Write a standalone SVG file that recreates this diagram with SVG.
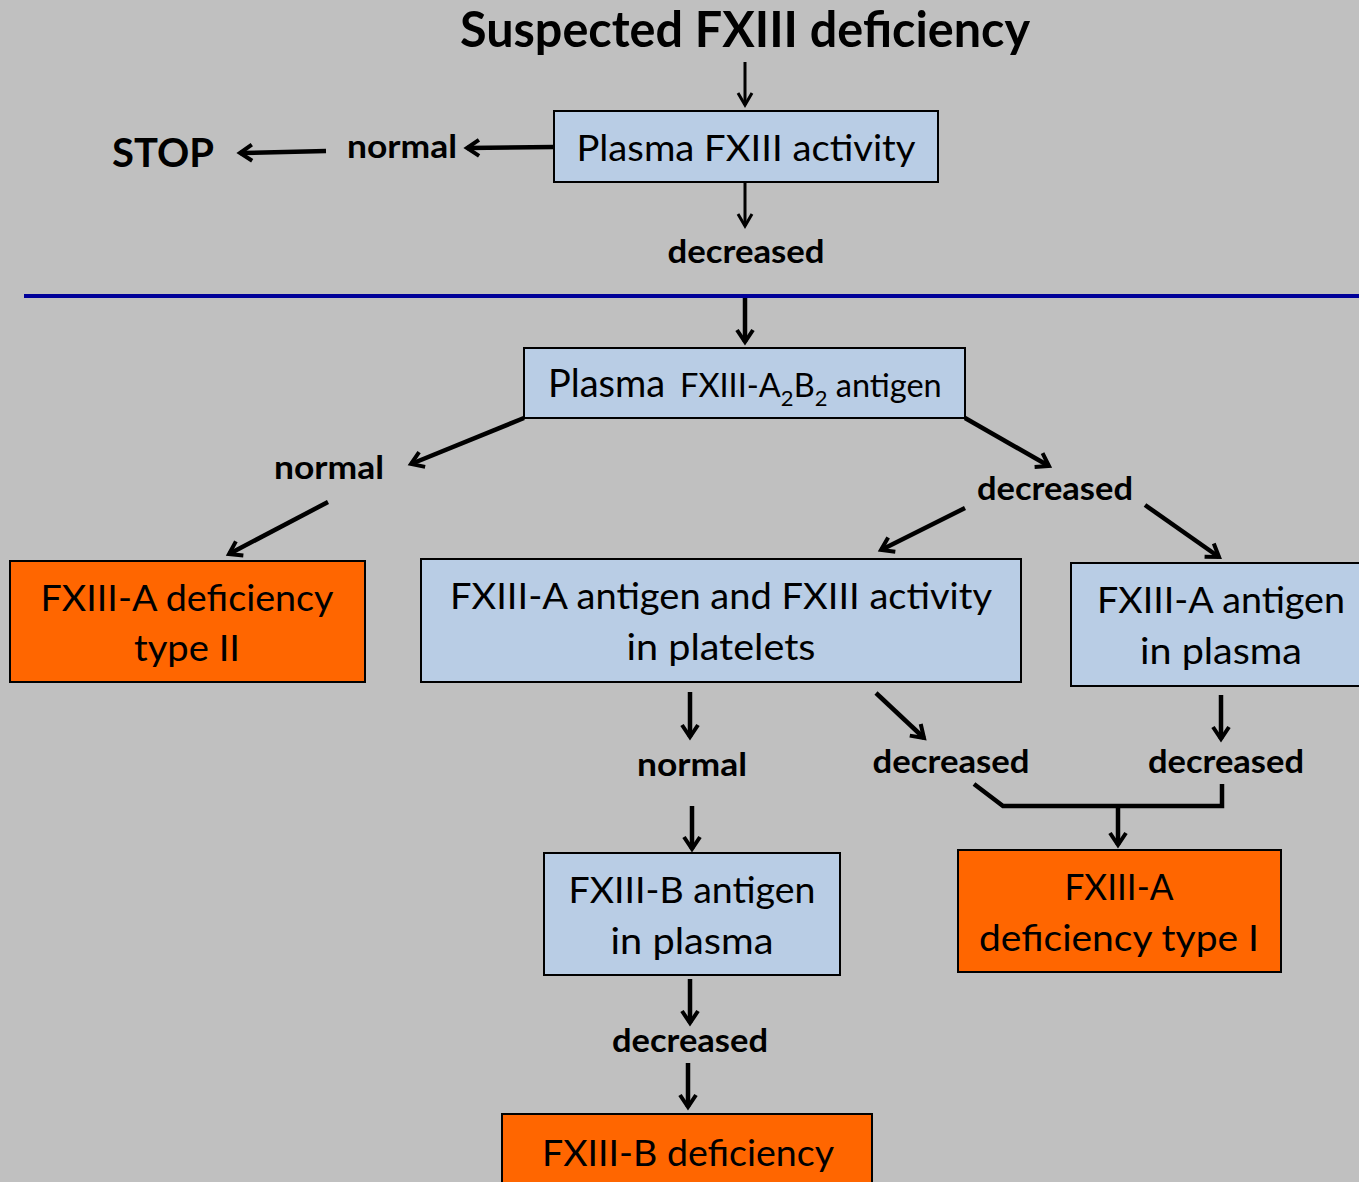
<svg xmlns="http://www.w3.org/2000/svg" width="1359" height="1182" viewBox="0 0 1359 1182">
<defs>
<style>
.bg{fill:#C0C0C0}
.blue{fill:#B9CDE5;stroke:#000;stroke-width:2}
.orange{fill:#FF6600;stroke:#000;stroke-width:2}
.t{font-family:Lato,"Open Sans",sans-serif;font-size:37px;fill:#000;text-anchor:middle}
.b{font-family:Lato,"Open Sans",sans-serif;font-size:33px;font-weight:bold;fill:#000;text-anchor:middle}
.c{fill:none;stroke:#000;stroke-width:4.5}
.thin{fill:none;stroke:#000;stroke-width:3}
</style>
<marker id="ah" viewBox="0 0 20 20" refX="16" refY="10" markerUnits="userSpaceOnUse" markerWidth="20" markerHeight="20" orient="auto">
<path d="M4,2 L16,10 L4,18" fill="none" stroke="#000" stroke-width="4"/>
</marker>
<marker id="ahs" viewBox="0 0 20 20" refX="16" refY="10" markerUnits="userSpaceOnUse" markerWidth="20" markerHeight="20" orient="auto">
<path d="M4,3 L16,10 L4,17" fill="none" stroke="#000" stroke-width="3"/>
</marker>
</defs>
<rect class="bg" x="0" y="0" width="1359" height="1182"/>

<g id="title"><text class="b" x="745" y="47" style="font-size:49px" textLength="570" lengthAdjust="spacingAndGlyphs">Suspected FXIII deficiency</text></g>

<g id="node-plasma-activity">
<rect class="blue" x="554" y="111" width="384" height="71"/>
<text class="t" x="746" y="161" textLength="339" lengthAdjust="spacingAndGlyphs">Plasma FXIII activity</text>
</g>

<g id="label-stop"><text class="b" x="163" y="167" style="font-size:40px" textLength="102" lengthAdjust="spacingAndGlyphs">STOP</text></g>
<g id="label-normal-top"><text class="b" x="402" y="158" textLength="110" lengthAdjust="spacingAndGlyphs">normal</text></g>
<g id="label-decreased-top"><text class="b" x="746" y="263" textLength="157" lengthAdjust="spacingAndGlyphs">decreased</text></g>

<line id="divider" x1="24" y1="296" x2="1359" y2="296" stroke="#000099" stroke-width="4"/>

<g id="node-a2b2">
<rect class="blue" x="524" y="348" width="441" height="70"/>
<text class="t" x="548" y="397" style="text-anchor:start;font-size:38px">Plasma<tspan font-size="32.5" x="680">FXIII-A</tspan><tspan font-size="22" dy="9">2</tspan><tspan font-size="32.5" dy="-9">B</tspan><tspan font-size="22" dy="9">2</tspan><tspan font-size="32.5" dy="-9"> antigen</tspan></text>
</g>

<g id="label-normal-left"><text class="b" x="329" y="479" textLength="110" lengthAdjust="spacingAndGlyphs">normal</text></g>
<g id="label-decreased-right"><text class="b" x="1055" y="500" textLength="156" lengthAdjust="spacingAndGlyphs">decreased</text></g>

<g id="node-type2">
<rect class="orange" x="10" y="561" width="355" height="121"/>
<text class="t" x="187" y="611" textLength="293" lengthAdjust="spacingAndGlyphs">FXIII-A deficiency</text>
<text class="t" x="187" y="661" textLength="106" lengthAdjust="spacingAndGlyphs">type II</text>
</g>

<g id="node-platelets">
<rect class="blue" x="421" y="559" width="600" height="123"/>
<text class="t" x="721" y="609" textLength="542" lengthAdjust="spacingAndGlyphs">FXIII-A antigen and FXIII activity</text>
<text class="t" x="721" y="660" textLength="189" lengthAdjust="spacingAndGlyphs">in platelets</text>
</g>

<g id="node-a-plasma">
<rect class="blue" x="1071" y="563" width="300" height="123"/>
<text class="t" x="1221" y="613" textLength="248" lengthAdjust="spacingAndGlyphs">FXIII-A antigen</text>
<text class="t" x="1221" y="664" textLength="162" lengthAdjust="spacingAndGlyphs">in plasma</text>
</g>

<g id="label-normal-mid"><text class="b" x="692" y="776" textLength="110" lengthAdjust="spacingAndGlyphs">normal</text></g>
<g id="label-decreased-mid"><text class="b" x="951" y="773" textLength="157" lengthAdjust="spacingAndGlyphs">decreased</text></g>
<g id="label-decreased-far"><text class="b" x="1226" y="773" textLength="156" lengthAdjust="spacingAndGlyphs">decreased</text></g>

<g id="node-type1">
<rect class="orange" x="958" y="850" width="323" height="122"/>
<text class="t" x="1119" y="900" textLength="109" lengthAdjust="spacingAndGlyphs">FXIII-A</text>
<text class="t" x="1119" y="951" textLength="280" lengthAdjust="spacingAndGlyphs">deficiency type I</text>
</g>

<g id="node-b-plasma">
<rect class="blue" x="544" y="853" width="296" height="122"/>
<text class="t" x="692" y="903" textLength="247" lengthAdjust="spacingAndGlyphs">FXIII-B antigen</text>
<text class="t" x="692" y="954" textLength="163" lengthAdjust="spacingAndGlyphs">in plasma</text>
</g>

<g id="label-decreased-low"><text class="b" x="690" y="1052" textLength="156" lengthAdjust="spacingAndGlyphs">decreased</text></g>

<g id="node-b-def">
<rect class="orange" x="502" y="1114" width="370" height="80"/>
<text class="t" x="688" y="1166" textLength="292" lengthAdjust="spacingAndGlyphs">FXIII-B deficiency</text>
</g>

<g id="connectors">
<line class="thin" x1="745" y1="62" x2="745" y2="105" marker-end="url(#ahs)"/>
<line class="thin" x1="745" y1="183" x2="745" y2="226" marker-end="url(#ahs)"/>
<line class="c" x1="554" y1="147" x2="467" y2="148" marker-end="url(#ah)"/>
<line class="c" x1="326" y1="151" x2="240" y2="153" marker-end="url(#ah)"/>
<line class="c" x1="745" y1="298" x2="745" y2="342" marker-end="url(#ah)"/>
<line class="c" x1="524" y1="418" x2="411" y2="464" marker-end="url(#ah)"/>
<line class="c" x1="328" y1="502" x2="229" y2="554" marker-end="url(#ah)"/>
<line class="c" x1="965" y1="418" x2="1049" y2="466" marker-end="url(#ah)"/>
<line class="c" x1="965" y1="508" x2="881" y2="550" marker-end="url(#ah)"/>
<line class="c" x1="1145" y1="505" x2="1219" y2="557" marker-end="url(#ah)"/>
<line class="c" x1="690" y1="692" x2="690" y2="737" marker-end="url(#ah)"/>
<line class="c" x1="876" y1="693" x2="924" y2="738" marker-end="url(#ah)"/>
<line class="c" x1="1221" y1="695" x2="1221" y2="739" marker-end="url(#ah)"/>
<polyline class="c" points="974,784 1003,806 1222,806 1222,784"/>
<line class="c" x1="1118" y1="804" x2="1118" y2="845" marker-end="url(#ah)"/>
<line class="c" x1="692" y1="806" x2="692" y2="849" marker-end="url(#ah)"/>
<line class="c" x1="690" y1="979" x2="690" y2="1023" marker-end="url(#ah)"/>
<line class="c" x1="688" y1="1063" x2="688" y2="1107" marker-end="url(#ah)"/>
</g>
</svg>
